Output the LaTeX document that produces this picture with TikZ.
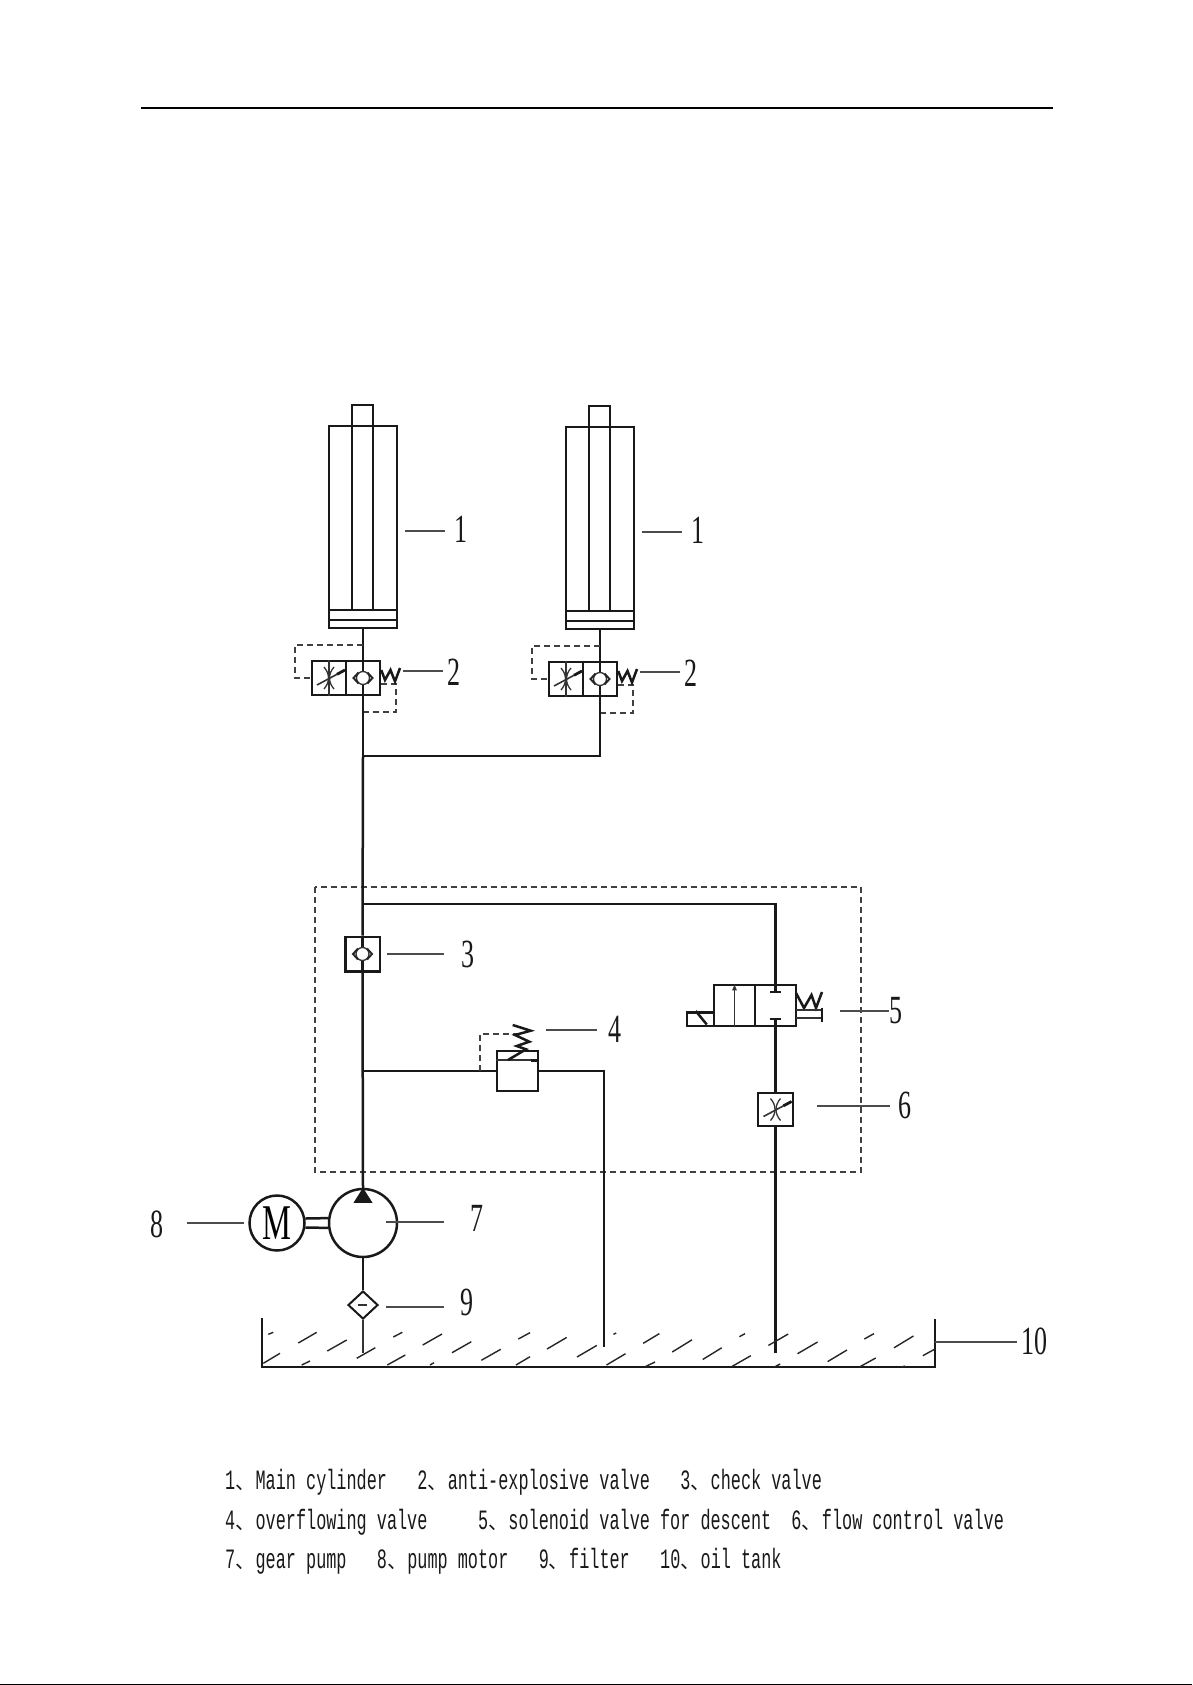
\documentclass[tikz,border=0pt]{standalone}
\usepackage{fontspec}
\usetikzlibrary{shapes.geometric}
\newfontfamily\numfont[FakeStretch=0.65]{Liberation Serif}
\newfontfamily\legendfont[FakeStretch=0.6017]{Liberation Mono}
\newfontfamily\cjk{Noto Sans CJK SC}
\newcommand{\dun}{\makebox[20.3pt][l]{\cjk\fontsize{20}{20}\selectfont 、}}
\tikzset{
	pipe/.style = {line width=2.5pt, black!90},
	part/.style = {draw=black!90, line width=2.5pt, inner sep=0pt},
	thinline/.style = {line width=1.3pt, black!80},
	leader/.style = {line width=1.5pt, black!70},
	pilot/.style = {line width=1.4pt, black!75, dash pattern=on 6pt off 4pt},
	oil/.style = {line width=1.4pt, black!85},
	spring/.style = {line width=2.5pt, black!90},
	numlabel/.style = {font=\numfont\fontsize{40}{40}\selectfont, text=black!90, inner ysep=0pt},
	legend/.style = {font=\legendfont\fontsize{28}{28}\selectfont, text=black!90, anchor=base west, inner sep=0pt},
	throttle/.pic = {
		\draw[thinline] (-5,-11) .. controls (1,-4) and (1,4) .. (-5,11);
		\draw[thinline] (5,-11) .. controls (-1,-4) and (-1,4) .. (5,11);
		\draw[thinline, line width=1.6pt] (-12,7) -- (16,-8);
		\draw[line width=2.8pt, black!90] (8,-3.7) -- (16,-8);
	},
	checkseat/.pic = {
		\draw[thinline, fill=white] (0,0) circle (6.5);
		\draw[line width=1.9pt, black!85] (-4.5,-5.5) -- (-9.5,0) -- (-4.5,5.5);
		\draw[line width=1.9pt, black!85] (4.5,-5.5) -- (9.5,0) -- (4.5,5.5);
	}
}
\begin{document}
\begin{tikzpicture}[x=1pt, y=-1pt]
	\useasboundingbox (0,0) rectangle (1192,1685);
	\fill[white] (0,0) rectangle (1192,1685);
	\draw[line width=1.4pt] (141,108) -- (1053,108);
	\draw[line width=1.2pt] (0,1684.4) -- (1192,1684.4);

	% cylinders and their valves
	\foreach \i/\dx/\dy in {1/0/0, 2/237/1} {
		\begin{scope}[shift={(\dx,\dy)}]
			\node[part, minimum width=68, minimum height=202] (cyl\i) at (363,527) {};
			\node[part, minimum width=21, minimum height=205] (rod\i) at (362.5,507.5) {};
			\draw[pipe] (cyl\i.west |- 0,610) -- (cyl\i.east |- 0,610);
			\draw[pipe] (cyl\i.west |- 0,620) -- (cyl\i.east |- 0,620);
			\node[part, minimum width=34, minimum height=34] (thr\i) at (329,678) {};
			\node[part, minimum width=34, minimum height=34] (chk\i) at (363,678) {};
			\draw[thinline] (thr\i.north) -- (thr\i.south);
			\pic at (329,678) {throttle};
			\draw[pipe] (cyl\i.south) -- (chk\i.north);
			\draw[pipe] (chk\i.north) -- (chk\i.south);
			\pic at (363,678) {checkseat};
			\draw[pilot] (363,645) -| (295,678) -- (thr\i.west);
			\draw[pilot] (chk\i.east |- 0,684) -- (396,684) |- (363,712);
			\draw[spring] (chk\i.east |- 0,670) -- (385,680) -- (390.5,670) -- (395,681.5) -- (400,668);
			\coordinate (a1\i) at (405,531);
			\node[numlabel, inner xsep=9.5] (lab1\i) at (461,529) {1};
			\draw[leader] (a1\i) -- (a1\i -| lab1\i.west);
			\coordinate (a2\i) at (403,671);
			\node[numlabel, inner xsep=4.8] (lab2\i) at (454.3,672) {2};
			\draw[leader] (a2\i) -- (a2\i -| lab2\i.west);
		\end{scope}
	}

	% main line
	\coordinate (tee) at (363,756);
	\coordinate (jsol) at (363,904);
	\coordinate (jrel) at (363,1071);
	\draw[pipe] (chk1.south) -- (tee);
	\draw[pipe] (chk2.south) |- (tee);

	% block
	\draw[pilot] (315,887) rectangle (861,1172);
	\node[part, minimum size=34.5] (chk3) at (362.5,954) {};
	\draw[pipe] (tee) -- (chk3.north);
	\draw[pipe] (chk3.north) -- (chk3.south);
	\pic at (362.5,954) {checkseat};

	% relief valve
	\node[part, minimum width=41, minimum height=40] (rel) at (517.5,1071) {};
	\coordinate (jpil) at (480,1071);
	\coordinate (retr) at (604,1071);
	\coordinate (retb) at (604,1347);
	\draw[pipe] (jrel) -- (rel.west);
	\draw[pipe] (rel.east) -- (retr) -- (retb);
	\draw[pilot] (jpil) |- (518,1034);
	\draw[thinline] (rel.west |- 0,1060) -- (rel.east |- 0,1060);
	\draw[line width=3pt, black!90] (530.5,1060) -- (rel.east |- 0,1060);
	\draw[spring] (508,1060) -- (526,1049.3) -- (516.7,1046) -- (529.3,1041.7) -- (515,1035) -- (530.7,1030.7) -- (512.7,1025);

	% solenoid valve
	\node[part, minimum width=41, minimum height=41] (sola) at (734.5,1005.5) {};
	\node[part, minimum width=41, minimum height=41] (solb) at (775.5,1005.5) {};
	\node[part, minimum width=27, minimum height=13.5] (coil) at (700.5,1019) {};
	\draw[pipe] (coil.north west) ++(10,0) -- ++(11,13.5);
	\draw[pipe] (jsol) -| (solb.north);
	\draw[pipe] (solb.north) -- ++(0,7);
	\draw[pipe] (770,992) -- (781,992);
	\draw[pipe] (770,1019) -- (781,1019);
	\draw[thinline, -latex] (sola.south) -- (sola.north);
	\draw[spring] (796,993) -- (804,1008) -- (811.5,995) -- (816,1008) -- (822,992);
	\draw[thinline, line width=1.8pt] (796,1010) -- (822,1010);
	\draw[thinline, line width=1.8pt] (796,1018) -- (822,1018);
	\draw[pipe] (822,1008) -- (822,1022);

	% flow control valve
	\node[part, minimum width=35, minimum height=33] (flow) at (775.5,1109.5) {};
	\pic at (775.5,1109.5) {throttle};
	\coordinate (drain) at (775.5,1353);
	\draw[pipe] (solb.south) -- ++(0,-7);
	\draw[pipe] (solb.south) -- (flow.north);
	\draw[pipe] (flow.south) -- (drain);

	% pump, motor, filter
	\node[part, circle, minimum size=68] (pump) at (363,1223) {};
	\node[part, circle, minimum size=55, font=\numfont\fontsize{50}{50}\selectfont] (motor) at (277,1223) {M};
	\node[part, diamond, minimum width=30, minimum height=28, line width=2pt] (filt) at (363,1305) {};
	\coordinate (suct) at (363,1353);
	\draw[pipe] (chk3.south) -- (pump.north);
	\fill[black!90] (pump.north) -- ++(9.5,15) -- ++(-19,0) -- cycle;
	\draw[pipe] (motor.9) -- (pump.172);
	\draw[pipe] (motor.-9) -- (pump.-172);
	\draw[pipe] (pump.south) -- (filt.north);
	\draw[thinline] (filt.south) -- (suct);
	\draw[thinline] (358,1305) -- (367,1305);

	% tank
	\draw[line width=2.6pt, black!90] (262,1318) |- (935,1367) -- (935,1319);
	\foreach \xa/\ya/\xb/\yb in {268.3/1334.3/273.3/1332.3, 298.3/1343/316.7/1332.3, 327.3/1351/346.7/1340,
		356.7/1358.3/375.3/1347.7, 263.3/1363.3/280/1353.3, 301.7/1365/310/1361, 387.3/1365/405.3/1355,
		393.3/1337/402.3/1332.3, 422.7/1345/442/1334, 452/1352.7/471.3/1341.7, 481.3/1360.3/500.7/1349.3,
		518.3/1339/530/1332.7, 430/1365/434/1362.7, 516/1365/530/1356.7, 547/1349/566.7/1337.4,
		577/1357/596.8/1345.4, 606.5/1365/625.5/1353.7, 644.6/1367/655/1362, 613.4/1334.3/616.2/1333,
		643.2/1343.3/659.4/1333.6, 672.2/1352/692/1339.8, 702.7/1359.5/721.7/1347.8, 731/1367/750.8/1355.7,
		774.3/1367/780.2/1364, 739.4/1336.7/745/1333.6, 768.4/1345.4/788.2/1334, 797.5/1353.7/817.6/1342,
		827.6/1361.6/847/1350, 859.4/1367/875.7/1358, 864.3/1339/874/1333.6, 894/1347.8/913.4/1336,
		922.8/1355.7/935/1349, 902/1367/904.8/1366} {
		\draw[oil] (\xa,\ya) -- (\xb,\yb);
	}

	% leaders
	\coordinate (a3) at (387,954);
	\coordinate (a4) at (546,1030);
	\coordinate (a5) at (840,1011);
	\coordinate (a6) at (817,1106);
	\coordinate (a7) at (386,1222);
	\coordinate (a9) at (386,1307);
	\coordinate (a10) at (935,1342);
	\node[numlabel, inner xsep=17.5] (lab3) at (468,954) {3};
	\node[numlabel, inner xsep=11.5] (lab4) at (615,1029) {4};
	\node[numlabel, inner xsep=0] (lab5) at (896,1011) {5};
	\node[numlabel, inner xsep=8.5] (lab6) at (905,1105) {6};
	\node[numlabel, inner xsep=26.5] (lab7) at (477,1218) {7};
	\node[numlabel, inner xsep=23.5] (lab8) at (157,1224) {8};
	\node[numlabel, inner xsep=16.5] (lab9) at (467,1302) {9};
	\node[numlabel, inner xsep=4.3] (lab10) at (1034.3,1341) {10};
	\foreach \n in {3,4,5,6,7,9,10} {
		\draw[leader] (a\n) -- (a\n -| lab\n.west);
	}
	\coordinate (a8) at (244,1223);
	\draw[leader] (a8) -- (a8 -| lab8.east);

	% legend
	\node[legend] (leg1) at (225,1489) {1\dun Main~cylinder~~~2\dun anti-explosive~valve~~~3\dun check~valve};
	\node[legend] (leg2) at (225,1529) {4\dun overflowing~valve~~~~~5\dun solenoid~valve~for~descent~~6\dun flow~control~valve};
	\node[legend] (leg3) at (225,1568) {7\dun gear~pump~~~8\dun pump~motor~~~9\dun filter~~~10\dun oil~tank};
\end{tikzpicture}
\end{document}
